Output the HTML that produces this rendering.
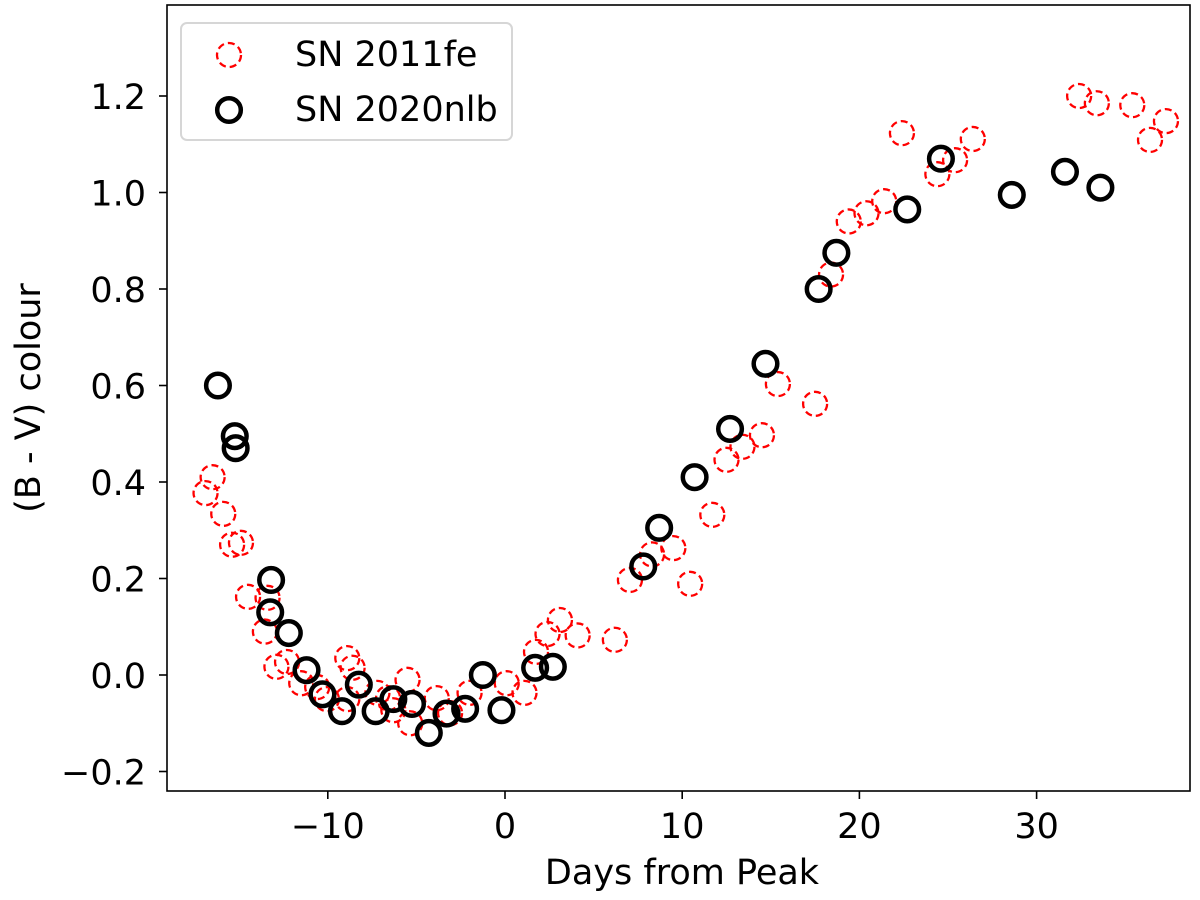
<!DOCTYPE html>
<html><head><meta charset="utf-8"><style>
html,body{margin:0;padding:0;background:#fff;}
svg{display:block;font-family:"DejaVu Sans","Liberation Sans",sans-serif;}
</style></head><body>
<svg id="chart" width="1200" height="900" viewBox="0 0 1200 900">
<rect x="0" y="0" width="1200" height="900" fill="#fff"/>
<g id="marks"></g>
<g id="axes"></g>
<g>
<rect x="181" y="23" width="331" height="117" rx="6" fill="#fff" fill-opacity="0.8" stroke="#d6d6d6" stroke-width="2"/>
<circle cx="229" cy="55" r="12" fill="none" stroke="#ff0000" stroke-width="2.3" stroke-dasharray="7,4"/>
<text x="295" y="66" font-size="35">SN 2011fe</text>
<circle cx="229" cy="110" r="11.8" fill="none" stroke="#000" stroke-width="4.5"/>
<text x="295" y="121" font-size="35">SN 2020nlb</text>
</g>
</svg>
<script>
const xTicks=[-10,0,10,20,30];
const yTicks=[-0.2,0.0,0.2,0.4,0.6,0.8,1.0,1.2];
const yTickLabels=["\u22120.2","0.0","0.2","0.4","0.6","0.8","1.0","1.2"];
const xTickLabels=["\u221210","0","10","20","30"];
const feDays=[-16.5,-16.9,-15.9,-15.4,-14.9,-14.5,-13.4,-13.55,-12.9,-12.3,-11.5,-10.6,-10.05,-8.9,-8.6,-8.9,-7.2,-6.6,-5.5,-5.35,-6.3,-3.85,-3.1,-2.0,0.1,1.1,1.75,2.4,3.1,4.1,6.2,7.05,8.3,9.5,10.45,11.7,12.5,13.4,14.5,15.4,17.5,18.4,19.4,20.4,21.4,22.4,24.4,25.4,26.4,32.4,33.4,35.4,36.4,37.3];
const feColour=[0.41,0.377,0.334,0.27,0.274,0.162,0.16,0.09,0.017,0.027,-0.017,-0.025,-0.05,0.035,0.015,-0.05,-0.037,-0.048,-0.01,-0.1,-0.073,-0.048,-0.079,-0.037,-0.017,-0.037,0.048,0.085,0.114,0.082,0.073,0.197,0.25,0.263,0.189,0.332,0.446,0.473,0.497,0.603,0.562,0.83,0.94,0.957,0.982,1.123,1.038,1.067,1.111,1.2,1.185,1.181,1.109,1.148];
const nlbDays=[-16.2,-15.25,-15.2,-13.2,-13.25,-12.2,-11.2,-10.3,-9.2,-8.25,-7.3,-6.3,-5.25,-4.3,-3.3,-2.25,-1.25,-0.2,1.7,2.7,7.8,8.7,10.7,12.7,14.7,17.7,18.7,22.7,24.6,28.6,31.6,33.6];
const nlbColour=[0.60,0.495,0.47,0.197,0.13,0.087,0.01,-0.04,-0.075,-0.02,-0.075,-0.05,-0.06,-0.12,-0.08,-0.07,0.0,-0.073,0.015,0.017,0.225,0.305,0.41,0.51,0.645,0.8,0.875,0.965,1.07,0.995,1.043,1.01];

const L=167,R=1190,T=5,B=791;
function xs(d){return 505+17.72*d;}
function ys(v){return 675-482.5*v;}
const NS="http://www.w3.org/2000/svg";
function mk(tag,attrs,parent){const e=document.createElementNS(NS,tag);for(const k in attrs)e.setAttribute(k,attrs[k]);parent.appendChild(e);return e;}
const marks=document.getElementById('marks');
const axes=document.getElementById('axes');
feDays.forEach((d,i)=>{
 const c=mk('circle',{cx:xs(d),cy:ys(feColour[i]),r:12,fill:'none',stroke:'#ff0000','stroke-width':2.3,'stroke-dasharray':'7,4'},marks);
 
 
});
nlbDays.forEach((d,i)=>{
 const c=mk('circle',{cx:xs(d),cy:ys(nlbColour[i]),r:11.8,fill:'none',stroke:'#000','stroke-width':4.5},marks);
 
 
});
const frame=mk('rect',{x:L,y:T,width:R-L,height:B-T,fill:'none',stroke:'#000','stroke-width':1.6},axes);


xTicks.forEach((t,i)=>{
 const x=xs(t);
 mk('line',{x1:x,y1:B,x2:x,y2:B+8,stroke:'#000','stroke-width':1.6},axes);
 const tx=mk('text',{x:x,y:838,'font-size':35,'text-anchor':'middle'},axes);
 tx.textContent=xTickLabels[i];
 
 
});
yTicks.forEach((t,i)=>{
 const y=ys(t);
 mk('line',{x1:L-8,y1:y,x2:L,y2:y,stroke:'#000','stroke-width':1.6},axes);
 const tx=mk('text',{x:146,y:y+13,'font-size':35,'text-anchor':'end'},axes);
 tx.textContent=yTickLabels[i];
 
 
});
const xt=mk('text',{x:682,y:884,'font-size':35,'text-anchor':'middle'},axes);
xt.textContent='Days from Peak';


const yt=mk('text',{x:0,y:0,'font-size':35,'text-anchor':'middle',transform:'translate(40,398) rotate(-90)'},axes);
yt.textContent='(B - V) colour';


</script>
</body></html>
